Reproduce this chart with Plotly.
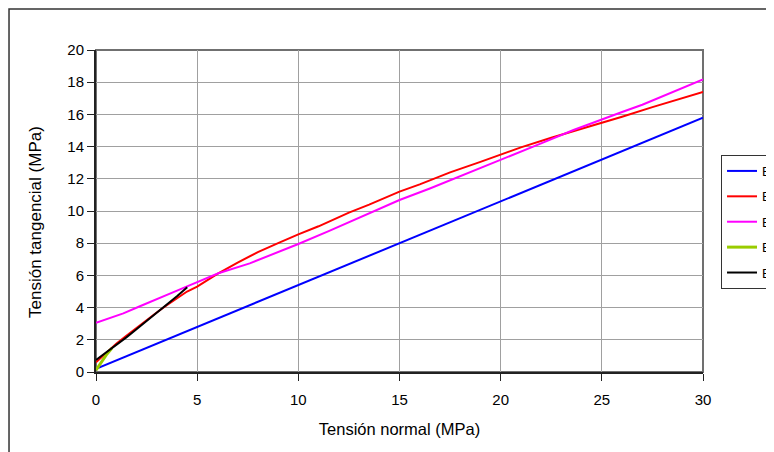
import plotly.graph_objects as go

# Data
e1_x = [0, 5, 10, 15, 20, 25, 30]
e1_y = [0.2, 2.8, 5.4, 8.0, 10.6, 13.2, 15.8]

e2_x = [0, 0.5, 1, 1.5, 2, 2.5, 3, 3.5, 4, 4.5, 5, 5.5, 6, 7, 8, 9, 10, 11, 12.5, 13.5, 15, 16, 17.5, 19, 20, 21, 22.5, 24, 25, 26, 27.5, 29, 30]
e2_y = [0.6, 1.2, 1.75, 2.25, 2.75, 3.25, 3.7, 4.15, 4.55, 5.0, 5.3, 5.7, 6.1, 6.8, 7.45, 8.0, 8.55, 9.05, 9.9, 10.4, 11.2, 11.65, 12.4, 13.05, 13.5, 13.95, 14.55, 15.1, 15.5, 15.85, 16.45, 17.0, 17.4]

e3_x = [0, 0.7, 1.35, 2.2, 3, 3.8, 4.65, 5.14, 6.05, 7.6, 9, 10, 11.5, 12.56, 14, 15, 16.5, 17.5, 19, 20, 21, 22, 23.6, 25, 26, 27, 28.7, 30]
e3_y = [3.06, 3.35, 3.64, 4.1, 4.55, 4.95, 5.4, 5.65, 6.13, 6.75, 7.45, 7.95, 8.75, 9.34, 10.12, 10.68, 11.4, 11.9, 12.65, 13.17, 13.65, 14.2, 15.03, 15.7, 16.15, 16.6, 17.5, 18.18]

e4_x = [0, 0.15, 0.3, 0.5, 0.78]
e4_y = [0.12, 0.4, 0.65, 1.05, 1.47]

e5_x = [0, 0.5, 1, 1.5, 2, 2.5, 3, 3.5, 4, 4.51]
e5_y = [0.75, 1.2, 1.7, 2.15, 2.65, 3.15, 3.65, 4.2, 4.7, 5.26]

names = ["E1", "E2", "E3", "E4", "E5"]
colors = ["#0000FF", "#FF0000", "#FF00FF", "#99CC00", "#000000"]
widths = [2, 2, 2, 3, 2]
series = [(e1_x, e1_y), (e2_x, e2_y), (e3_x, e3_y), (e4_x, e4_y), (e5_x, e5_y)]

fig = go.Figure()
for name, col, w, (xs, ys) in zip(names, colors, widths, series):
    fig.add_trace(go.Scatter(x=xs, y=ys, mode="lines", name=name,
                             legendgroup=name,
                             line=dict(color=col, width=w)))

font_family = "Liberation Sans, Arial, sans-serif"

fig.update_layout(
    width=774, height=452,
    margin=dict(l=88, r=79, t=42, b=88, autoexpand=False),
    paper_bgcolor="white", plot_bgcolor="white",
    font=dict(family=font_family, size=15, color="black"),
    showlegend=True,
    legend=dict(x=1.0297, xanchor="left", y=0.674, yanchor="top",
                bgcolor="white", bordercolor="#333333", borderwidth=1,
                font=dict(size=13), tracegroupgap=5.5, traceorder="grouped"),
    xaxis=dict(range=[0, 30], dtick=5, tick0=0, showgrid=True,
               gridcolor="#A0A0A0", gridwidth=1, zeroline=False,
               showline=True, linecolor="#222222", linewidth=2,
               ticks="outside", ticklen=7, tickcolor="#222222",
               tickfont=dict(size=15), ticklabelstandoff=6,
               title=dict(text="Tensión normal (MPa)", font=dict(size=16.5), standoff=16)),
    yaxis=dict(range=[0, 20], dtick=2, tick0=0, showgrid=True,
               gridcolor="#A0A0A0", gridwidth=1, zeroline=False,
               showline=True, linecolor="#222222", linewidth=2,
               ticks="outside", ticklen=7, tickcolor="#222222",
               tickfont=dict(size=15)),
    annotations=[
        dict(text="Tensión tangencial (MPa)", xref="paper", yref="paper",
             x=-0.0988, y=0.466, xanchor="center", yanchor="middle",
             textangle=-90, showarrow=False, font=dict(size=17)),
    ],
    shapes=[
        dict(type="rect", xref="paper", yref="paper", x0=0, x1=1, y0=0, y1=1,
             line=dict(color="#707070", width=2), layer="below"),
        dict(type="rect", xref="paper", yref="paper",
             x0=-0.1433, x1=1.3, y0=-0.5, y1=1.1273,
             line=dict(color="#333333", width=1.5), layer="below"),
    ],
)

fig.write_html("out.html")
